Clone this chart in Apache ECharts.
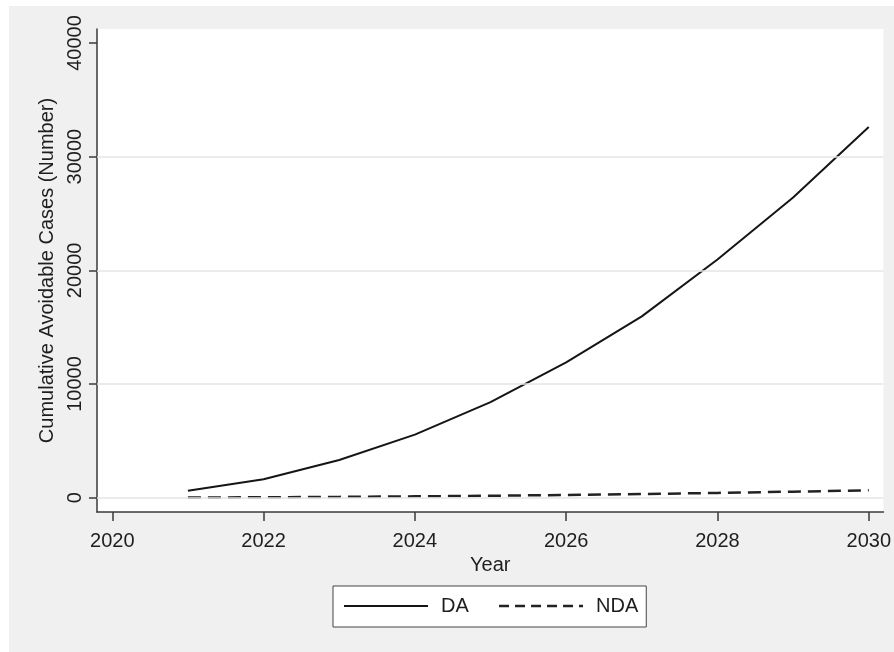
<!DOCTYPE html>
<html>
<head>
<meta charset="utf-8">
<title>Cumulative Avoidable Cases</title>
<script src="https://cdn.jsdelivr.net/npm/echarts@6/dist/echarts.min.js"></script>
<style>
  html, body { margin: 0; padding: 0; background: #fff; }
  #chart { width: 894px; height: 652px; }
</style>
</head>
<body>
<div id="chart"></div>
<script>
// Projection years and cumulative avoidable cases per scenario
const years = [2021, 2022, 2023, 2024, 2025, 2026, 2027, 2028, 2029, 2030];
const daValues = [600, 1620, 3320, 5550, 8400, 11900, 15950, 20950, 26400, 32600];
const ndaValues = [15, 35, 70, 115, 170, 240, 320, 420, 530, 650];

// Axis ticks and grid lines
const xTicks = [2020, 2022, 2024, 2026, 2028, 2030];
const yTicks = [0, 10000, 20000, 30000, 40000];
const gridValues = [0, 10000, 20000, 30000];

const FONT = "'Liberation Sans', Arial, Helvetica, sans-serif";
const FS = 20;
const TEXT = '#1e1e1e';
const AXIS = '#3a3a3a';

const pairs = (xs, ys) => xs.map((x, i) => [x, ys[i]]);
const plain = v => String(Math.round(v));

const chart = echarts.init(document.getElementById('chart'), null, { renderer: 'canvas' });

chart.setOption({
  backgroundColor: '#f0f0f0',
  animation: false,
  textStyle: { fontFamily: FONT, color: TEXT },
  graphic: [
    // white margin strips around the gray panel
    { type: 'rect', left: 0, top: 0, shape: { width: 894, height: 6 }, style: { fill: '#fff' }, silent: true },
    { type: 'rect', left: 0, top: 0, shape: { width: 9, height: 652 }, style: { fill: '#fff' }, silent: true }
  ],
  grid: {
    left: 97, right: 10, top: 29, bottom: 140,
    show: true, backgroundColor: '#ffffff', borderWidth: 0,
    containLabel: false
  },
  xAxis: {
    type: 'value',
    min: 2019.798, max: 2030.194,
    name: 'Year',
    nameLocation: 'middle',
    nameGap: 30,
    nameTextStyle: { fontFamily: FONT, fontSize: FS, color: TEXT },
    axisLine: { show: true, onZero: false, lineStyle: { color: AXIS, width: 1.5 } },
    axisTick: { show: true, length: 9, customValues: xTicks, lineStyle: { color: AXIS, width: 1.5 } },
    axisLabel: { customValues: xTicks, formatter: plain, margin: 19, fontFamily: FONT, fontSize: FS, color: TEXT },
    splitLine: { show: false }
  },
  yAxis: {
    type: 'value',
    min: -1260, max: 41230,
    name: 'Cumulative Avoidable Cases (Number)',
    nameLocation: 'middle',
    nameRotate: 90,
    nameGap: 34,
    nameTextStyle: { fontFamily: FONT, fontSize: FS, color: TEXT },
    axisLine: { show: true, lineStyle: { color: AXIS, width: 1.5 } },
    axisTick: { show: true, length: 8, customValues: yTicks, lineStyle: { color: AXIS, width: 1.5 } },
    axisLabel: { customValues: yTicks, formatter: plain, rotate: 90, margin: 12, fontFamily: FONT, fontSize: FS, color: TEXT },
    splitLine: { show: false }
  },
  legend: {
    data: [
      { name: 'DA', lineStyle: { color: '#151515', width: 2, type: 'solid' } },
      { name: 'NDA', lineStyle: { color: '#222', width: 2.5, type: [10, 6] } }
    ],
    top: 586,
    left: 333,
    orient: 'horizontal',
    itemWidth: 84,
    itemHeight: 14,
    itemGap: 29,
    padding: [10, 8, 11, 10],
    backgroundColor: '#ffffff',
    borderColor: '#444',
    borderWidth: 1,
    borderRadius: 0,
    selectedMode: false,
    itemStyle: { color: 'rgba(0,0,0,0)', borderWidth: 0, opacity: 0 },
    textStyle: { fontFamily: FONT, fontSize: FS, color: TEXT, padding: [0, 0, 0, 8] }
  },
  series: [
    {
      // horizontal grid lines, drawn beneath the data lines
      name: 'grid',
      type: 'line',
      data: [],
      z: 1,
      silent: true,
      markLine: {
        silent: true,
        symbol: 'none',
        label: { show: false },
        lineStyle: { color: '#e4e4e4', width: 1.5, type: 'solid' },
        data: gridValues.map(v => ({ yAxis: v }))
      }
    },
    {
      name: 'DA',
      type: 'line',
      data: pairs(years, daValues),
      showSymbol: false,
      symbol: 'none',
      z: 3,
      lineStyle: { color: '#151515', width: 2, type: 'solid' },
      itemStyle: { color: '#151515' }
    },
    {
      name: 'NDA',
      type: 'line',
      data: pairs(years, ndaValues),
      showSymbol: false,
      symbol: 'none',
      z: 3,
      lineStyle: { color: '#222', width: 2.5, type: [13, 7] },
      itemStyle: { color: '#222' }
    }
  ]
});
</script>
</body>
</html>
